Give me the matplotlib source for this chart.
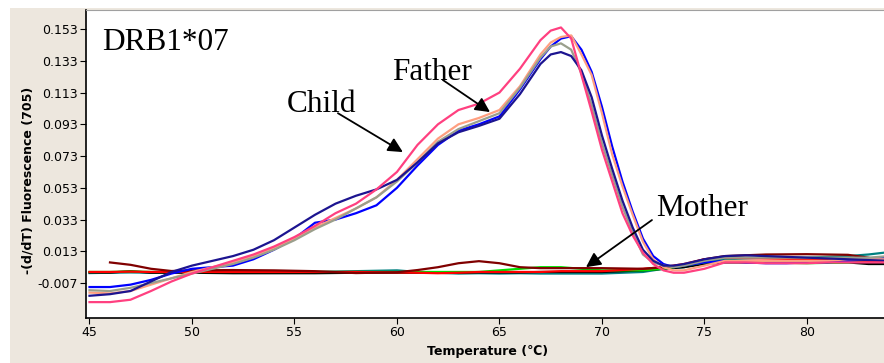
import numpy as np
import matplotlib
matplotlib.use('Agg')
import matplotlib.pyplot as plt
from matplotlib.patches import Rectangle

# temperatures for the melting curves
temp = [45, 46, 47, 48, 49, 50, 51, 52, 53, 54, 55, 56, 57, 58, 59, 60, 61, 62, 63, 64, 65, 66, 67, 67.5,
        68, 68.5, 69, 69.5, 70, 70.5, 71, 71.5, 72, 72.5, 73, 73.5, 74, 75, 76, 77, 78, 79, 80, 81, 82, 83, 84]

pink = [-0.019, -0.019, -0.0175, -0.012, -0.006, -0.001, 0.003, 0.007, 0.011, 0.016, 0.022, 0.029, 0.037, 0.043,
        0.052, 0.063, 0.080, 0.093, 0.102, 0.106, 0.113, 0.128, 0.146, 0.152, 0.154, 0.147, 0.124, 0.101, 0.077,
        0.057, 0.037, 0.023, 0.012, 0.005, 0.001, -0.0005, -0.0005, 0.002, 0.006, 0.006, 0.0055, 0.0055, 0.0055,
        0.006, 0.006, 0.006, 0.006]
salmon = [-0.013, -0.0135, -0.012, -0.008, -0.004, 0.0, 0.003, 0.006, 0.010, 0.015, 0.021, 0.028, 0.034, 0.040,
          0.047, 0.058, 0.071, 0.084, 0.093, 0.097, 0.102, 0.117, 0.137, 0.1445, 0.148, 0.149, 0.137, 0.124, 0.100,
          0.074, 0.054, 0.036, 0.019, 0.008, 0.003, 0.001, 0.001, 0.004, 0.007, 0.007, 0.007, 0.007, 0.007, 0.007,
          0.008, 0.008, 0.008]
gray = [-0.0115, -0.012, -0.010, -0.007, -0.004, -0.001, 0.002, 0.005, 0.009, 0.014, 0.020, 0.027, 0.033, 0.040,
        0.047, 0.057, 0.069, 0.082, 0.090, 0.095, 0.100, 0.116, 0.135, 0.142, 0.144, 0.140, 0.125, 0.105, 0.081,
        0.061, 0.041, 0.025, 0.011, 0.006, 0.004, 0.003, 0.004, 0.007, 0.009, 0.009, 0.009, 0.009, 0.009, 0.009,
        0.009, 0.009, 0.010]
navy = [-0.015, -0.014, -0.012, -0.006, 0.000, 0.004, 0.007, 0.010, 0.014, 0.020, 0.028, 0.036, 0.043, 0.048,
        0.052, 0.058, 0.069, 0.081, 0.088, 0.092, 0.0965, 0.112, 0.131, 0.137, 0.1385, 0.136, 0.127, 0.110, 0.086,
        0.065, 0.045, 0.028, 0.014, 0.007, 0.004, 0.004, 0.005, 0.008, 0.010, 0.0105, 0.010, 0.0095, 0.009, 0.0085,
        0.008, 0.0075, 0.007]
blue = [-0.0095, -0.0095, -0.008, -0.005, -0.001, 0.002, 0.003, 0.004, 0.008, 0.014, 0.021, 0.031, 0.033, 0.037,
        0.042, 0.053, 0.067, 0.080, 0.089, 0.093, 0.098, 0.115, 0.134, 0.142, 0.147, 0.1485, 0.140, 0.126, 0.104,
        0.079, 0.057, 0.038, 0.021, 0.010, 0.005, 0.003, 0.004, 0.006, 0.007, 0.006, 0.0055, 0.0055, 0.006, 0.006,
        0.007, 0.008, 0.009]

# flat curves (mother and the other wells)
temp2 = [45, 46, 47, 48, 49, 50, 52, 54, 56, 58, 60, 61, 62, 63, 64, 65, 66, 67, 68, 70, 72, 73, 74, 75, 76, 78,
         80, 82, 83, 84]
darkred = [np.nan, 0.006, 0.0045, 0.002, 0.0006, 0.001, 0.0012, 0.001, 0.0005, -0.0007, -0.0002, 0.0012, 0.003,
           0.0055, 0.0068, 0.0055, 0.003, 0.0024, 0.0024, 0.0024, 0.002, 0.003, 0.0045, 0.008, 0.010, 0.011,
           0.0112, 0.0108, 0.009, 0.006]
teal = [-0.0007, -0.0005, -0.0003, -0.0005, -0.0002, 0.0, 0.0, 0.0005, 0.0, 0.0005, 0.001, 0.0, -0.0005, -0.001,
        -0.0008, -0.001, -0.0008, -0.001, -0.001, -0.001, 0.0, 0.002, 0.003, 0.006, 0.008, 0.009, 0.009, 0.010,
        0.011, 0.0125]
black = [-0.0003, -0.0004, 0.0005, -0.0005, -0.0005, -0.0005, -0.0008, -0.0008, -0.0008, -0.0005, -0.0005, -0.0005,
         -0.0005, -0.0005, -0.0003, -0.0003, -0.0003, 0.0, 0.0, 0.0, 0.001, 0.002, 0.003, 0.005, 0.006, 0.006,
         0.006, 0.006, 0.005, 0.005]
green = [0.0, 0.0, 0.0003, 0.0, 0.0, 0.0, 0.0, 0.0, 0.0, 0.0, 0.0, 0.0, 0.0, 0.0, 0.0, 0.001, 0.002, 0.003, 0.003,
         0.001, 0.001, 0.002, 0.004, 0.006, 0.007, 0.006, 0.0055, 0.006, 0.007, 0.008]
red = [0.0, 0.0, 0.0002, 0.0, 0.0, 0.0, 0.0, 0.0, 0.0, 0.0, -0.0003, -0.0005, -0.0008, -0.0005, 0.0, 0.0, 0.0,
       0.0, 0.0005, 0.0005, 0.002, 0.003, 0.005, 0.008, 0.009, 0.0085, 0.008, 0.0075, 0.007, 0.007]

xticks = [45, 50, 55, 60, 65, 70, 75, 80]
yticks = [-0.007, 0.013, 0.033, 0.053, 0.073, 0.093, 0.113, 0.133, 0.153]

fig = plt.figure(figsize=(8.84, 3.63), dpi=100, facecolor='white')
fig.patches.append(Rectangle((10 / 884, 0), 1, 1 - 8 / 363, transform=fig.transFigure,
                             facecolor='#ede7de', edgecolor='none', zorder=-10))
ax = fig.add_axes([86 / 884, 1 - 318 / 363, 1 - 86 / 884, 308 / 363])
ax.set_facecolor('white')

lw = 1.6
ax.plot(temp2, teal, color='#008080', lw=lw)
ax.plot(temp2, black, color='black', lw=lw)
ax.plot(temp2, green, color='#00e000', lw=lw)
ax.plot(temp2, red, color='#ff0000', lw=lw)
ax.plot(temp2, darkred, color='#800000', lw=lw)

ax.plot(temp, blue, color='#0000ff', lw=lw)
ax.plot(temp, salmon, color='#ff9f80', lw=lw)
ax.plot(temp, gray, color='#9a9f8c', lw=lw)
ax.plot(temp, navy, color='#1c1490', lw=lw)
ax.plot(temp, pink, color='#ff4080', lw=lw)

ax.set_xlim(44.83, 83.76)
ax.set_ylim(-0.029, 0.165)
ax.set_xticks(xticks)
ax.set_yticks(yticks)
ax.set_yticklabels(['%.3f' % v for v in yticks])
ax.tick_params(direction='out', length=4, labelsize=9, pad=2)
ax.spines['right'].set_visible(False)
ax.spines['top'].set_color('#a0a0a0')
ax.spines['left'].set_linewidth(1.2)
ax.spines['bottom'].set_linewidth(1.2)

fig.text(28 / 884, 1 - 180 / 363, '-(d/dT) Fluorescence (705)', rotation=90, ha='center', va='center',
         fontsize=9, fontweight='bold')
fig.text(488 / 884, 1 - 352 / 363, 'Temperature (℃)', ha='center', va='center', fontsize=9, fontweight='bold')

serif = dict(family='Liberation Serif', fontsize=22.5, ha='left', va='baseline')
ax.text(45.61, 0.1398, 'DRB1*07', **serif)
ax.text(54.63, 0.1007, 'Child', **serif)
ax.text(59.76, 0.1209, 'Father', **serif)
ax.text(72.63, 0.0352, 'Mother', **serif)

arrow = dict(arrowstyle='-|>', color='black', lw=1.3, mutation_scale=22, shrinkA=0, shrinkB=0)
ax.annotate('', xy=(60.29, 0.0755), xytext=(57.12, 0.100), arrowprops=arrow)
ax.annotate('', xy=(64.54, 0.1007), xytext=(62.24, 0.1209), arrowprops=arrow)
ax.annotate('', xy=(69.22, 0.003), xytext=(72.44, 0.0327), arrowprops=arrow)

fig.savefig('out.png', dpi=100, facecolor=fig.get_facecolor())
